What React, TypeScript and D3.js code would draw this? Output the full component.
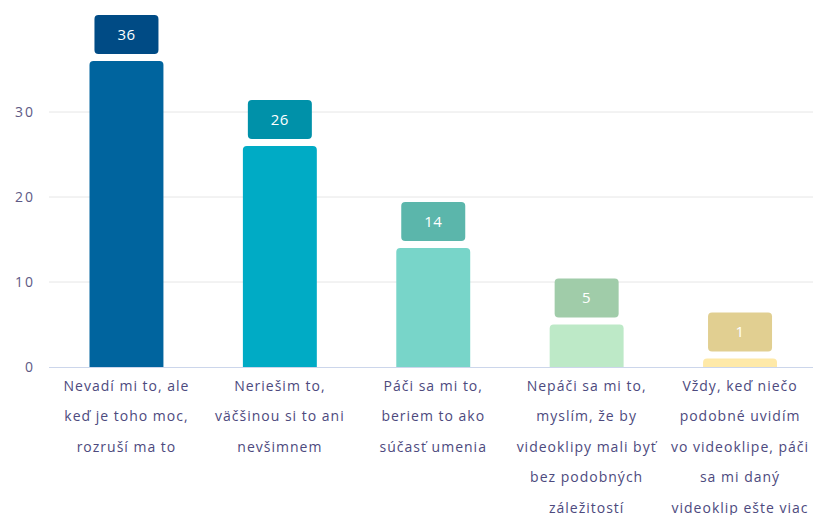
import React from "react";
import * as d3 from "d3";

const categories: string[][] = [
  ["Nevadí mi to, ale", "keď je toho moc,", "rozruší ma to"],
  ["Neriešim to,", "väčšinou si to ani", "nevšimnem"],
  ["Páči sa mi to,", "beriem to ako", "súčasť umenia"],
  ["Nepáči sa mi to,", "myslím, že by", "videoklipy mali byť", "bez podobných", "záležitostí"],
  ["Vždy, keď niečo", "podobné uvidím", "vo videoklipe, páči", "sa mi daný", "videoklip ešte viac"],
];
const values = [36, 26, 14, 5, 1];
const barColors = ["#00649e", "#00abc5", "#78d5c9", "#bde9c7", "#fee9a8"];
const labelColors = ["#004b85", "#0091a9", "#5bb6ab", "#a0cca9", "#e1cf91"];
const yTicks = [0, 10, 20, 30];

const W = 813;
const H = 515;
const left = 49;
const right = 813;
const bandRight = 817.5;
const baseY = 367;
const topY = 112 - (367 - 112) / 3; // y of value 40

export default function App() {
  const x = d3
    .scaleBand<number>()
    .domain(values.map((_, i) => i))
    .range([left, bandRight])
    .paddingInner(0.518)
    .paddingOuter(0.264);
  const y = d3.scaleLinear().domain([0, 40]).range([baseY, topY]);
  const font = "'Open Sans', 'Noto Sans', sans-serif";
  const r = 4;
  const bw = x.bandwidth();

  const barPath = (x0: number, y0: number, w: number, h: number) => {
    const rr = Math.min(r, h);
    return `M${x0},${y0 + h}V${y0 + rr}Q${x0},${y0} ${x0 + rr},${y0}H${x0 + w - rr}Q${x0 + w},${y0} ${x0 + w},${y0 + rr}V${y0 + h}Z`;
  };

  return (
    <svg width={W} height={H} style={{ position: "absolute", left: 0, top: 0, background: "#fff" }}>
      {yTicks.map((t) => (
        <g key={t}>
          {t !== 0 && (
            <line x1={left} x2={right} y1={y(t)} y2={y(t)} stroke="#e6e6e6" strokeWidth={1} />
          )}
          <text
            x={35}
            y={y(t)}
            dy="0.35em"
            textAnchor="end"
            fontFamily={font}
            fontSize={14}
            letterSpacing={2}
            fill="#5e5a85"
          >
            {t}
          </text>
        </g>
      ))}
      {values.map((v, i) => {
        const x0 = x(i)!;
        const cx = x0 + bw / 2;
        const top = y(v);
        const boxW = 64;
        const boxH = 39;
        const boxBottom = top - 7;
        return (
          <g key={i}>
            <path d={barPath(x0, top, bw, baseY - top)} fill={barColors[i]} />
            <rect
              x={cx - boxW / 2}
              y={boxBottom - boxH}
              width={boxW}
              height={boxH}
              rx={4}
              fill={labelColors[i]}
            />
            <text
              x={cx}
              y={boxBottom - boxH / 2}
              dy="0.35em"
              textAnchor="middle"
              fontFamily={font}
              fontSize={15}
              fontWeight={500}
              letterSpacing={0.5}
              fill="#ffffff"
            >
              {v}
            </text>
            {categories[i].map((line, j) => (
              <text
                key={j}
                x={cx}
                y={386 + j * 30.5}
                dy="0.35em"
                textAnchor="middle"
                fontFamily={font}
                fontSize={14}
                letterSpacing={1}
                fill="#4d4a7e"
              >
                {line}
              </text>
            ))}
          </g>
        );
      })}
      <line x1={left} x2={right} y1={baseY + 0.5} y2={baseY + 0.5} stroke="#ccd6eb" strokeWidth={1} />
    </svg>
  );
}
